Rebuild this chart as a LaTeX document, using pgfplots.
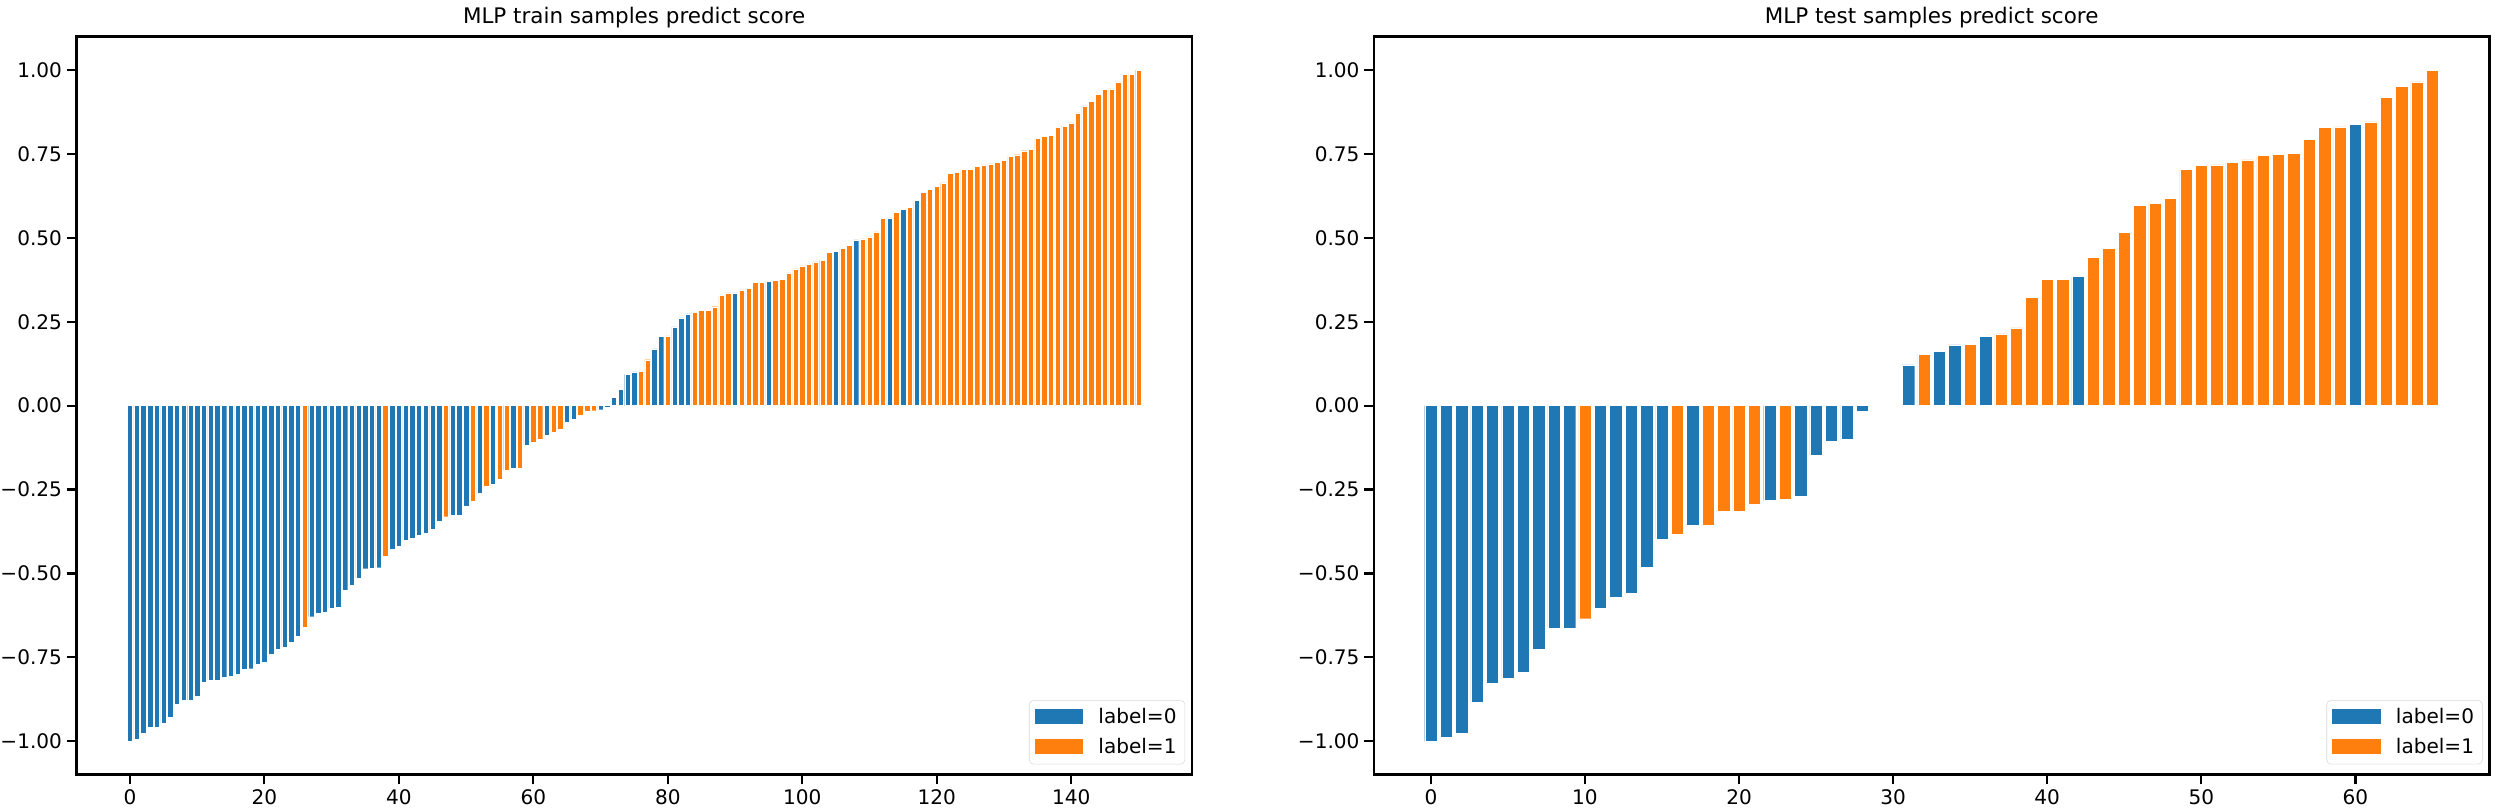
\documentclass[border=0pt]{standalone}
\usepackage{fontspec}
\setmainfont{DejaVu Sans}
\usepackage{pgfplots}
\pgfplotsset{compat=1.18}
\usepackage{pgfplotstable}
\definecolor{cblue}{HTML}{1F77B4}
\definecolor{corange}{HTML}{FF7F0E}

\pgfplotstableread{
x y
0 -1.000
1 -0.993
2 -0.976
3 -0.957
4 -0.957
5 -0.947
6 -0.930
7 -0.890
8 -0.879
9 -0.877
10 -0.866
11 -0.823
12 -0.818
13 -0.817
14 -0.810
15 -0.806
16 -0.801
17 -0.785
18 -0.784
19 -0.772
20 -0.765
21 -0.742
22 -0.726
23 -0.720
24 -0.705
25 -0.688
27 -0.629
28 -0.620
29 -0.616
30 -0.604
31 -0.602
32 -0.551
33 -0.534
34 -0.515
35 -0.486
36 -0.485
37 -0.483
39 -0.429
40 -0.418
41 -0.400
42 -0.396
43 -0.386
44 -0.381
45 -0.369
46 -0.345
48 -0.327
49 -0.327
50 -0.300
52 -0.262
54 -0.235
57 -0.186
59 -0.117
62 -0.088
65 -0.050
66 -0.040
70 -0.012
71 -0.005
72 0.024
73 0.048
74 0.093
75 0.101
78 0.169
79 0.207
81 0.235
82 0.262
83 0.274
90 0.336
95 0.371
105 0.459
108 0.494
113 0.560
115 0.586
117 0.612
}\trainblue

\pgfplotstableread{
x y
26 -0.659
38 -0.449
47 -0.331
51 -0.284
53 -0.239
55 -0.219
56 -0.191
58 -0.186
60 -0.108
61 -0.101
63 -0.078
64 -0.070
67 -0.029
68 -0.017
69 -0.015
76 0.104
77 0.137
80 0.208
84 0.278
85 0.284
86 0.284
87 0.295
88 0.329
89 0.336
91 0.345
92 0.349
93 0.367
94 0.367
96 0.374
97 0.376
98 0.396
99 0.408
100 0.417
101 0.422
102 0.429
103 0.433
104 0.458
106 0.469
107 0.478
109 0.497
110 0.503
111 0.518
112 0.559
114 0.576
116 0.591
118 0.635
119 0.645
120 0.653
121 0.664
122 0.692
123 0.695
124 0.704
125 0.704
126 0.714
127 0.718
128 0.721
129 0.726
130 0.732
131 0.744
132 0.748
133 0.760
134 0.764
135 0.797
136 0.802
137 0.805
138 0.829
139 0.833
140 0.843
141 0.873
142 0.894
143 0.908
144 0.928
145 0.943
146 0.944
147 0.965
148 0.988
149 0.988
150 1.000
}\trainorange

\pgfplotstableread{
x y
0 -1.000
1 -0.987
2 -0.975
3 -0.883
4 -0.826
5 -0.813
6 -0.795
7 -0.726
8 -0.664
9 -0.664
11 -0.603
12 -0.571
13 -0.558
14 -0.482
15 -0.397
17 -0.357
22 -0.283
24 -0.270
25 -0.147
26 -0.105
27 -0.101
28 -0.016
29 -0.003
31 0.122
33 0.161
34 0.181
36 0.207
42 0.385
60 0.838
}\testblue

\pgfplotstableread{
x y
10 -0.635
16 -0.384
18 -0.356
19 -0.316
20 -0.315
21 -0.295
23 -0.280
30 0.002
32 0.154
35 0.183
37 0.214
38 0.232
39 0.323
40 0.376
41 0.376
43 0.442
44 0.469
45 0.517
46 0.598
47 0.604
48 0.618
49 0.704
50 0.716
51 0.718
52 0.726
53 0.733
54 0.746
55 0.749
56 0.752
57 0.794
58 0.829
59 0.831
61 0.846
62 0.919
63 0.951
64 0.965
65 1.000
}\testorange

\pgfplotsset{
  mpl/.style={
    scale only axis,
    width=806pt, height=533.4pt,
    anchor=south west,
    ymin=-1.1, ymax=1.1,
    ytick={-1,-0.75,-0.5,-0.25,0,0.25,0.5,0.75,1},
    yticklabels={−1.00,−0.75,−0.50,−0.25,0.00,0.25,0.50,0.75,1.00},
    axis line style={line width=1.8pt, black},
    every tick/.style={line width=1.6pt, black},
    major tick length=7pt,
    tick align=outside,
    xtick pos=bottom, ytick pos=left,
    /pgf/number format/assume math mode=true,
    tick label style={font=\fontsize{14.5}{17}\selectfont},
    title style={font=\fontsize{15.5}{18}\selectfont, yshift=-3pt},
    legend style={font=\fontsize{14.5}{17}\selectfont, at={(0.994,0.014)}, anchor=south east,
      draw=black!15, fill=white, rounded corners=3pt, inner sep=4pt, row sep=5pt},
    legend cell align=left,
  },
  bblue/.style={ybar, bar width=0.8, bar shift=0pt, fill=cblue, draw=white, line width=0.3pt,
    legend image code/.code={\fill[cblue, draw=none, sharp corners] (0pt,-5pt) rectangle (35pt,6pt);
      \path[draw=none, fill=none] (0pt,0pt) -- (44pt,0pt);}},
  borange/.style={ybar, bar width=0.8, bar shift=0pt, fill=corange, draw=white, line width=0.3pt,
    legend image code/.code={\fill[corange, draw=none, sharp corners] (0pt,-5pt) rectangle (35pt,6pt);
      \path[draw=none, fill=none] (0pt,0pt) -- (44pt,0pt);}},
}

\begin{document}
\begin{tikzpicture}
\useasboundingbox (0,0) rectangle (1806.75pt,585.4pt);
\begin{axis}[mpl, at={(55.3pt,25.5pt)},
  xmin=-7.94, xmax=157.94,
  xtick={0,20,40,60,80,100,120,140},
  title={MLP train samples predict score}]
\addplot[bblue] table {\trainblue};
\addlegendentry{label=0}
\addplot[borange] table {\trainorange};
\addlegendentry{label=1}
\end{axis}
\begin{axis}[mpl, at={(993pt,25.5pt)},
  xmin=-3.69, xmax=68.69,
  xtick={0,10,20,30,40,50,60},
  title={MLP test samples predict score}]
\addplot[bblue] table {\testblue};
\addlegendentry{label=0}
\addplot[borange] table {\testorange};
\addlegendentry{label=1}
\end{axis}
\end{tikzpicture}
\end{document}
